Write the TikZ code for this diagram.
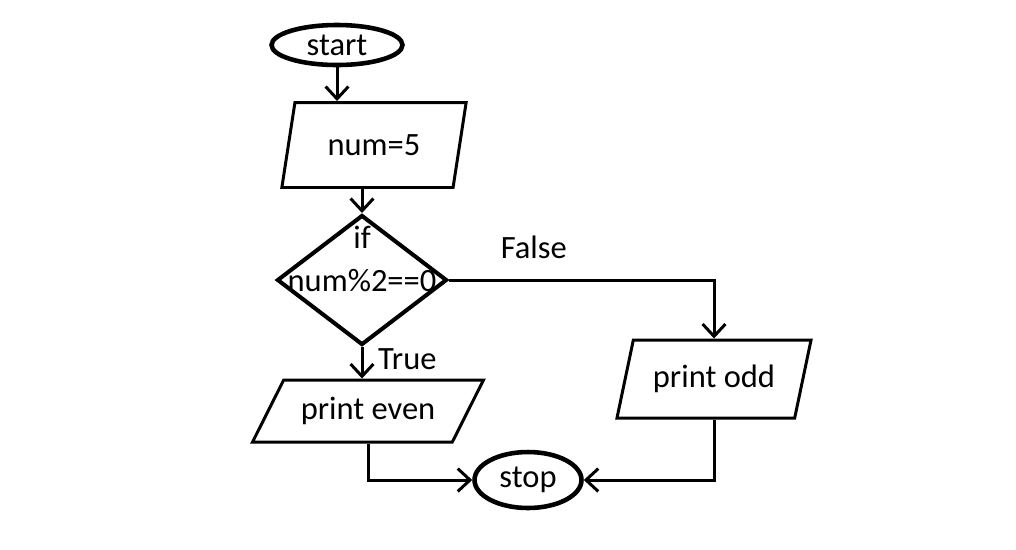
\documentclass[tikz,border=0pt]{standalone}
\usepackage{fontspec}
\setmainfont{Carlito}
\usetikzlibrary{shapes.geometric,arrows.meta}

\tikzset{
  terminal/.style={ellipse, draw, line width=2.6pt, inner sep=0pt},
  io/.style={trapezium, trapezium stretches=true, draw, line width=1.7pt, inner sep=0pt},
  decision/.style={diamond, draw, line width=2.3pt, inner sep=0pt, minimum width=3.4cm, minimum height=2.6cm},
  flow/.style={line width=1.7pt, ->, >={Straight Barb[length=7pt,width=13pt]}},
}

\begin{document}
\begin{tikzpicture}[x=0.02cm, y=-0.02cm, font=\fontsize{18.5}{24}\selectfont]
 \useasboundingbox (0,0) rectangle (1016,549);

 %start and stop
 \node[terminal, minimum width=2.62cm, minimum height=0.8cm] (start) at (337,45) {start};
 \node[terminal, minimum width=2.14cm, minimum height=1.12cm] (stop) at (528,480) {stop};

 %input
 \node[io, trapezium left angle=70, trapezium right angle=110, minimum width=3.7cm, minimum height=1.7cm] (num) at (374,145) {num=5};

 %decision
 \node[decision] (dia) at (362,280) {};
 \node[align=center, inner sep=0pt] (cond) at (362,259) {if\\num\%2==0};

 %outputs
 \node[io, trapezium left angle=48, trapezium right angle=132, minimum width=4.62cm, minimum height=1.24cm] (even) at (368,411) {print even};
 \node[io, trapezium left angle=66, trapezium right angle=114, minimum width=3.9cm, minimum height=1.56cm] (odd) at (714,379) {print odd};

 %arrows
 \draw[flow] (start.south) -- (start.south |- num.north);
 \draw[flow] (dia.north |- num.south) -- (dia.north);
 \draw[flow] (dia.east) -| node[pos=0.16, above=8pt] (no) {False} (odd.north);
 \draw[flow] (dia.south) -- node[right=5pt, pos=0.4] (yes) {True} (dia.south |- even.north);
 \draw[flow] (even.south) |- (stop.west);
 \draw[flow] (odd.south) |- (stop.east);

\end{tikzpicture}
\end{document}
